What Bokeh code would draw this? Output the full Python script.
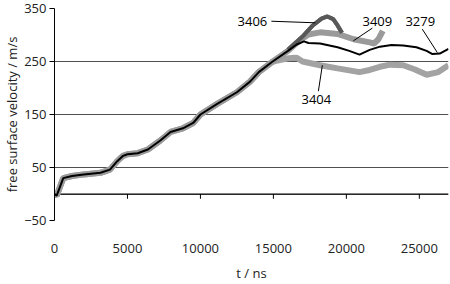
from bokeh.plotting import figure
from bokeh.models import FixedTicker, Label
from bokeh.embed import file_html
from bokeh.resources import INLINE

# shared rising part (all shots coincide)
t_rise = [0, 150, 600, 1200, 2000, 3150, 3800, 4300, 4700, 5000, 5700, 6400, 7250, 7950,
          8800, 9500, 10000, 11150, 12500, 13400, 14000, 14900]
v_rise = [0, -3, 30, 34, 37, 40, 46, 62, 72, 75, 77, 84, 101, 117,
          124, 134, 150, 170, 192, 212, 230, 249]

t_3404 = [15300, 16000, 16600, 17000, 18200, 19400, 20900, 21600, 22300, 23000, 23900, 24700, 25500, 26300, 27000]
v_3404 = [252, 256, 257, 250, 243, 237, 230, 234, 240, 244, 243, 235, 225, 230, 243]

t_3409 = [16000, 16800, 17400, 18200, 19400, 20500, 21600, 21900, 22200, 22500]
v_3409 = [270, 290, 301, 305, 302, 292, 286, 284, 292, 308]

t_3406 = [16000, 17000, 17700, 18300, 18700, 19100, 19400, 19700]
v_3406 = [272, 297, 318, 331, 335, 330, 318, 304]

t_3279 = [16000, 16600, 17100, 17400, 18200, 19400, 20200, 20900, 21600, 22300, 23100, 23900, 24800, 25500, 25900, 26400, 27000]
v_3279 = [270, 282, 288, 285, 284, 277, 270, 263, 272, 278, 281, 280, 277, 270, 264, 265, 274]

x_ticks = [0, 5000, 10000, 15000, 20000, 25000]
y_ticks = [-50, 50, 150, 250, 350]
grid_levels = [-50, 0, 50, 150, 250, 350]

label_text = ["3406", "3409", "3279", "3404"]
label_t = [13562, 22123, 25068, 17945]
label_v = [326, 326, 326, 179]
lead_t0 = [14863, 21781, 25205, 18082]
lead_v0 = [326, 313, 311, 194]
lead_t1 = [17877, 20479, 26233, 18356]
lead_v1 = [323, 289, 267, 243]

FONT = "Open Sans"

p = figure(width=450, height=284, x_range=(0, 27000), y_range=(-50, 350),
           output_backend="svg", toolbar_location=None,
           min_border_left=54, min_border_right=2, min_border_top=8, min_border_bottom=59)
p.outline_line_color = None
p.background_fill_color = "white"
p.border_fill_color = "white"

p.xgrid.visible = False
p.ygrid.ticker = FixedTicker(ticks=grid_levels)
p.ygrid.grid_line_color = "#505050"
p.ygrid.grid_line_width = 1

# y axis
p.yaxis.ticker = FixedTicker(ticks=y_ticks)
p.yaxis.axis_line_color = "black"
p.yaxis.major_tick_line_color = "black"
p.yaxis.major_tick_out = 5
p.yaxis.major_tick_in = 0
p.yaxis.minor_tick_line_color = None
p.yaxis.major_label_standoff = 3
p.yaxis.major_label_text_font = FONT
p.yaxis.major_label_text_font_size = "13px"
p.yaxis.major_label_text_color = "#222222"
p.yaxis.axis_label = "free surface velocity / m/s"
p.yaxis.axis_label_text_font = FONT
p.yaxis.axis_label_text_font_size = "13px"
p.yaxis.axis_label_text_font_style = "normal"
p.yaxis.axis_label_text_color = "#222222"
p.yaxis.axis_label_standoff = 0

# x axis (labels only, low position)
p.xaxis.ticker = FixedTicker(ticks=x_ticks)
p.xaxis.axis_line_color = None
p.xaxis.major_tick_line_color = None
p.xaxis.minor_tick_line_color = None
p.xaxis.major_label_standoff = 17
p.xaxis.major_label_text_font = FONT
p.xaxis.major_label_text_font_size = "13px"
p.xaxis.major_label_text_color = "#222222"
p.xaxis.axis_label = "t / ns"
p.xaxis.axis_label_text_font = FONT
p.xaxis.axis_label_text_font_size = "13px"
p.xaxis.axis_label_text_font_style = "normal"
p.xaxis.axis_label_text_color = "#222222"
p.xaxis.axis_label_standoff = 8

# horizontal axis line at zero with downward ticks
p.segment(x0=[0], y0=[0], x1=[27000], y1=[0], line_color="black", line_width=1)
p.segment(x0=x_ticks[1:], y0=[0] * 5, x1=x_ticks[1:], y1=[-9] * 5, line_color="black", line_width=1)

# series
p.line(t_rise + t_3406, v_rise + v_3406, line_color="#585858", line_width=4)
p.line(t_rise + t_3404, v_rise + v_3404, line_color="#a3a3a3", line_width=6)
p.line(t_rise + t_3409, v_rise + v_3409, line_color="#9a9a9a", line_width=6)
p.line(t_3406, v_3406, line_color="#585858", line_width=4)
p.line(t_rise + t_3279, v_rise + v_3279, line_color="black", line_width=2)

# leaders and labels
p.segment(x0=lead_t0, y0=lead_v0, x1=lead_t1, y1=lead_v1, line_color="black", line_width=1)
for txt, tx, ty in zip(label_text, label_t, label_v):
    p.add_layout(Label(x=tx, y=ty, text=txt, text_font=FONT, text_font_size="13px",
                       text_align="center", text_baseline="middle", text_color="black"))

open("out.html", "w").write(file_html(p, INLINE))
